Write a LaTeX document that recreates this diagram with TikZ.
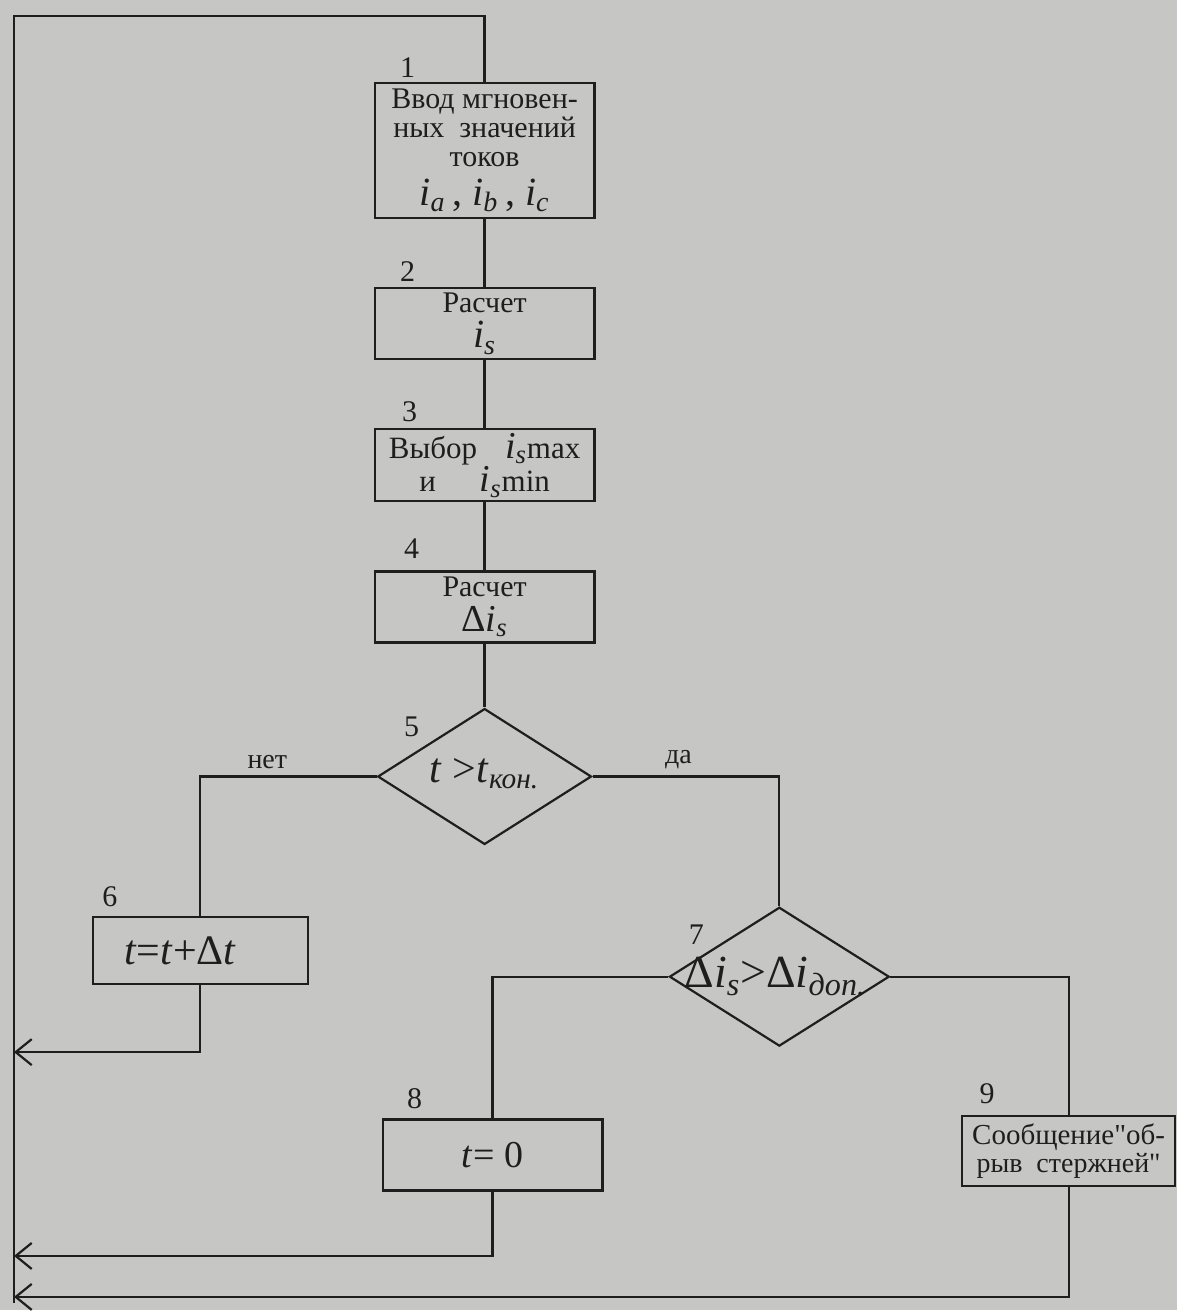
\documentclass[tikz,border=0pt]{standalone}
\usepackage{fontspec}
\setmainfont{Liberation Serif}[Ligatures=TeXOff]
\usetikzlibrary{arrows.meta,shapes.geometric,positioning}
\definecolor{paper}{RGB}{198,198,196}
\definecolor{ink}{RGB}{30,30,30}

\begin{document}
\begin{tikzpicture}
          [x=0.5pt,y=-0.5pt,line width=1.1pt,color=ink,node distance=34pt,
           font=\fontsize{14}{14}\selectfont]
          \tikzstyle{block}=[draw,rectangle,minimum width=110pt,minimum height=35.5pt,inner sep=2pt,align=center]
          \tikzstyle{decision}=[draw,diamond,minimum width=107pt,minimum height=68pt,inner sep=0pt]
          \tikzstyle{num}=[font=\fontsize{15}{15}\selectfont,inner sep=0pt]
          \tikzstyle{back}=[-{Straight Barb[length=8pt,width=13pt]}]

          \fill[paper] (0,0) rectangle (1178,1311);

          % main column
          \node[block,minimum height=67.5pt,inner ysep=0pt,font=\fontsize{15}{14.5}\selectfont] (b1) at (485,150.5) {Ввод мгновен-\\ных\ \ значений\\токов\\[5pt]{\fontsize{20}{14.5}\selectfont\textit{i}\textsubscript{\textit{a}}\,,\ \textit{i}\textsubscript{\textit{b}}\,,\ \textit{i}\textsubscript{\textit{c}}}};
          \node[block,font=\fontsize{15}{15}\selectfont] (b2) [below=of b1] {Расчет\\[3pt]{\fontsize{20}{15}\selectfont\textit{i}\textsubscript{\textit{s}}}};
          \node[block,font=\fontsize{15.5}{13.5}\selectfont] (b3) [below=of b2] {Выбор\hspace{14pt}{\fontsize{19}{13.5}\selectfont\textit{i}\textsubscript{\textit{s}}}max\\и\hspace{22pt}{\fontsize{19}{13.5}\selectfont\textit{i}\textsubscript{\textit{s}}}min};
          \node[block,font=\fontsize{15}{15}\selectfont] (b4) [below=of b3] {Расчет\\[2.5pt]{\fontsize{19}{15}\selectfont Δ\textit{i}\textsubscript{\textit{s}}}};
          \node[decision] (d5) [below=32pt of b4] {};
          \node (t5) at ([yshift=1.5pt]d5.center) {\fontsize{21}{21}\selectfont\textit{t} >\textit{t}\textsubscript{\textit{кон.}}};

          % branches
          \node[block,minimum width=107.5pt,minimum height=33.5pt] (b6) at (200.5,951.5) {\fontsize{21}{21}\selectfont\textit{t}=\textit{t}+Δ\textit{t}\hspace*{20pt}};
          \node[decision,minimum width=110pt,minimum height=69.5pt] (d7) at (780,977.5) {};
          \node (t7) at ([xshift=-2pt,yshift=0pt]d7.center) {\fontsize{23}{23}\selectfont Δ\textit{i}\textsubscript{\textit{s}}>Δ\textit{i}\textsubscript{\textit{доп.}}};
          \node[block] (b8) at (493,1156) {\fontsize{19}{19}\selectfont\textit{t}= 0};
          \node[block,minimum width=106.5pt,minimum height=35pt,inner sep=1pt] (b9) at (1069.5,1152) {\fontsize{14.5}{14}\selectfont Сообщение"об-\\рыв\ \ стержней"};

          % numbers
          \node[num] (n1) at (408,68) {1};
          \node[num] (n2) at (408,272) {2};
          \node[num] (n3) at (410,412) {3};
          \node[num] (n4) at (412,549) {4};
          \node[num] (n5) at (412,727) {5};
          \node[num] (n6) at (110,897) {6};
          \node[num] (n7) at (697,935) {7};
          \node[num] (n8) at (415,1100) {8};
          \node[num] (n9) at (988,1095) {9};

          \coordinate (lt) at (14,16);
          \coordinate (lb) at (14,1304);
          \coordinate (r6) at (14,1053);
          \coordinate (r8) at (14,1257);
          \coordinate (r9) at (14,1298);

          \draw (b1.south) -- (b2.north);
          \draw (b2.south) -- (b3.north);
          \draw (b3.south) -- (b4.north);
          \draw (b4.south) -- (d5.north);
          \draw (d5.west) -| node[pos=0.31,above] (lno) {нет} (b6.north);
          \draw (d5.east) -| node[pos=0.23,above] (lyes) {да} (d7.north);
          \draw (d7.west) -| (b8.north);
          \draw (d7.east) -| (b9.north);
          \draw (lb) -- (lt) -| (b1.north);
          \draw[back] (b6.south) |- (r6);
          \draw[back] (b8.south) |- (r8);
          \draw[back] (b9.south) |- (r9);
        \end{tikzpicture}
\end{document}
